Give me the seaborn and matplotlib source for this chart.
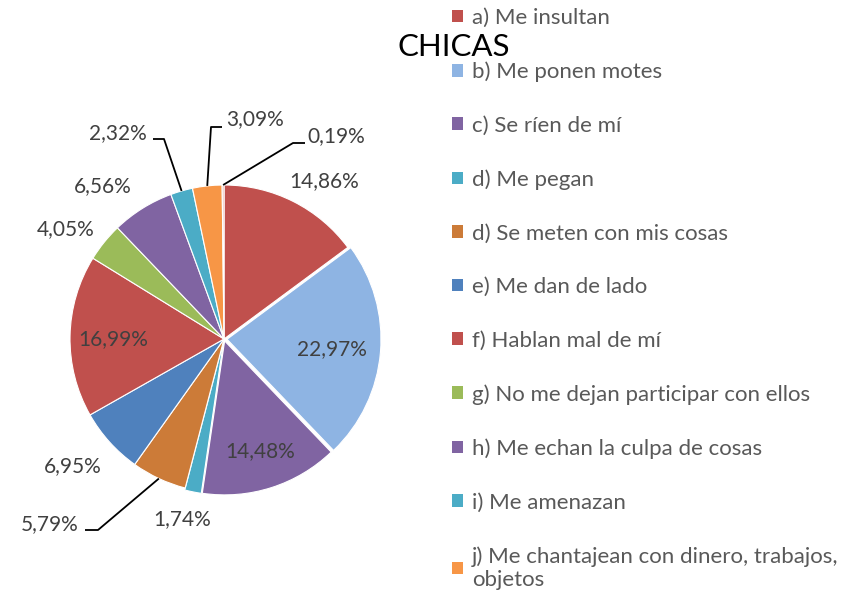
import seaborn as sns
import matplotlib.pyplot as plt
import numpy as np

# Data
categorias = [
    "a) Me insultan",
    "b) Me ponen motes",
    "c) Se ríen de mí",
    "d) Me pegan",
    "d) Se meten con mis cosas",
    "e) Me dan de lado",
    "f) Hablan mal de mí",
    "g) No me dejan participar con ellos",
    "h) Me echan la culpa de cosas",
    "i) Me amenazan",
    "j) Me chantajean con dinero, trabajos,\nobjetos",
    "",
]
porcentajes = [14.86, 22.97, 14.48, 1.74, 5.79, 6.95, 16.99, 4.05, 6.56, 2.32, 3.09, 0.19]
colores = ["#C0504D", "#8EB4E3", "#8064A2", "#4BACC6", "#CC7B38", "#4F81BD",
           "#C0504D", "#9BBB59", "#8064A2", "#4BACC6", "#F79646", "#E8A89E"]

sns.set_theme(style="white")
plt.rcParams['font.family'] = ['Lato', 'DejaVu Sans']

W, H = 858, 592
fig = plt.figure(figsize=(W / 100, H / 100), dpi=100)
ax = fig.add_axes([0, 0, 1, 1])

def Y(y):
    # pixel row from top -> data y
    return H - y

cx, cy, r = 224, Y(339), 154
explode = [0, 3, 2, 2, 0, 0, 0, 0, 0, 0, 0, 0]

wedges, _ = ax.pie(porcentajes, colors=colores, startangle=90, counterclock=False,
                   radius=r, center=(cx, cy), explode=explode,
                   wedgeprops=dict(edgecolor="white", linewidth=0.8))
ax.set_xlim(0, W)
ax.set_ylim(0, H)
ax.set_aspect("equal")
ax.axis("off")

# etiquetas de porcentaje (posiciones en píxeles)
pos_etiquetas = [(324, 181), (332, 349), (260, 451), (182, 519), (50, 524), (73, 466),
                 (113, 339), (66, 229), (103, 186), (118, 133), (255, 119), (336, 136)]
for v, (x, y) in zip(porcentajes, pos_etiquetas):
    ax.text(x, Y(y), f"{v:.2f}%".replace(".", ","), ha="center", va="center",
            fontsize=15, color="#404040")

# líneas guía
total = sum(porcentajes)
acum = np.cumsum([0] + porcentajes)
def borde(i):
    mid = (acum[i] + acum[i + 1]) / 2
    ang = np.deg2rad(90 - 360 * mid / total)
    return cx + r * np.cos(ang), cy + r * np.sin(ang)

guias = {4: [(98, 530), (85, 530)], 9: [(164, 139), (153, 139)],
         10: [(211, 127), (222, 127)], 11: [(293, 143), (305, 143)]}
for i, pts in guias.items():
    x0, y0 = borde(i)
    xs = [x0] + [p[0] for p in pts]
    ys = [y0] + [Y(p[1]) for p in pts]
    ax.plot(xs, ys, color="black", lw=1.3, solid_capstyle="butt")

ax.text(454, Y(47), "CHICAS", ha="center", va="center", fontsize=22.5, color="black")

leg = fig.legend(handles=wedges[:11], labels=categorias[:11], loc="upper left",
                 bbox_to_anchor=(452 / W, 1 - 8 / H), frameon=False, fontsize=16,
                 labelspacing=1.51, handlelength=0.5, handleheight=0.5,
                 handletextpad=0.4, borderaxespad=0, borderpad=0)
for t in leg.get_texts():
    t.set_color("#595959")
for h in leg.legend_handles:
    h.set_edgecolor("none")

fig.savefig("out.png", dpi=100, facecolor="white")
